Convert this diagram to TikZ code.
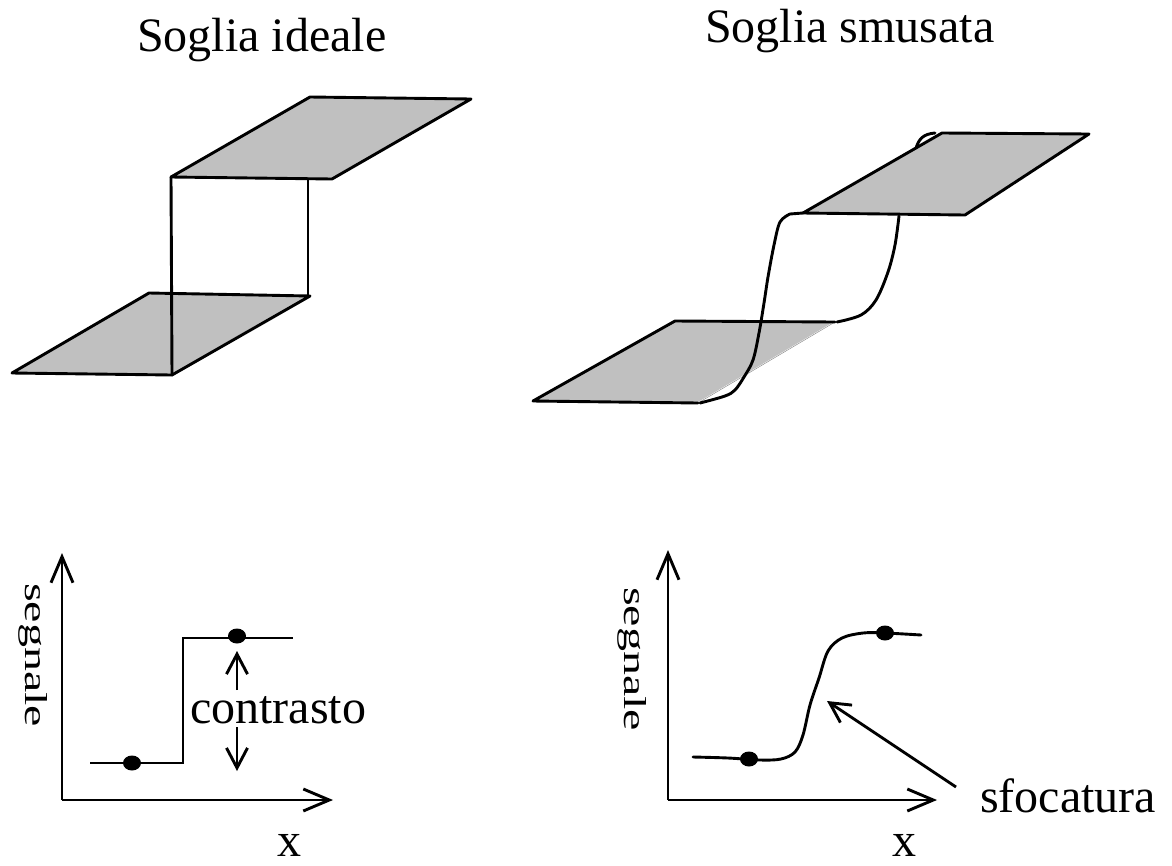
\documentclass[tikz,border=0pt]{standalone}
\usepackage{fontspec}
\setmainfont{Liberation Serif}
\usetikzlibrary{arrows.meta}
\definecolor{planegray}{RGB}{192,192,192}
\begin{document}
\begin{tikzpicture}[x=1pt,y=-1pt,
  edge/.style={line width=2.9pt, line join=round, line cap=round},
  planestyle/.style={fill=planegray, draw=black, line width=2.9pt, line join=round},
  lbl/.style={inner sep=0pt, anchor=base west, font=\fontsize{48}{56}\selectfont},
  axisarrow/.style={line width=2.9pt, -{Straight Barb[length=26pt,width=22pt]}},
  smallarrow/.style={line width=2.9pt, -{Straight Barb[length=20pt,width=21pt]}},
  dotstyle/.style={fill=black}]
\useasboundingbox (0,0) rectangle (1172,865);

% ---------- titles
\node[lbl] (t1) at (137,51) {Soglia ideale};
\node[lbl] (t2) at (705,42) {Soglia smusata};

% ---------- ideal threshold (3D)
\coordinate (iA) at (310,97);  \coordinate (iB) at (471,99);
\coordinate (iC) at (332,179); \coordinate (iD) at (171,177);
\coordinate (iE) at (149,293); \coordinate (iF) at (310,296);
\coordinate (iG) at (172,375); \coordinate (iH) at (12,373);
\coordinate (iV1) at (308,179); \coordinate (iV2) at (308,296);
\draw[planestyle] (iH) -- (iE) -- (iF) -- (iG) -- cycle;
\draw[planestyle] (iD) -- (iA) -- (iB) -- (iC) -- cycle;
\draw[edge] (iD) -- (iG);
\draw[edge] (iV1) -- (iV2);

% ---------- smoothed threshold (3D)
\coordinate (sA) at (942,133); \coordinate (sB) at (1089,134);
\coordinate (sC) at (965,215); \coordinate (sD) at (803,213);
\coordinate (sE) at (675,321); \coordinate (sF) at (835,322);
\coordinate (sG) at (698,403); \coordinate (sH) at (533,401);
\fill[planegray] (sH) -- (sE) -- (sF) -- (sG) -- cycle;
\draw[white, line width=1.4pt] (sF) -- (sG);
\draw[gray, line width=0.4pt] (sF) -- (sG);
\draw[edge] (sG) -- (sH) -- (sE) -- (sF);
% left blurred edge
\draw[edge] (sD) -- (790,214)
  plot[smooth, tension=0.55] coordinates {(790,214) (780,222) (774,245) (768,277) (764,303) (759,333) (753,360) (744,377) (735,390) (725,396) (700,403)};
% right blurred edge
\draw[edge] plot[smooth, tension=0.55] coordinates {(899,216) (895,245) (888,272) (876,300) (861,315) (837,322)};
\draw[planestyle] (sD) -- (sA) -- (sB) -- (sC) -- cycle;
\draw[edge] (916,148) .. controls (919,139) and (923,134) .. (935,133);

% ---------- bottom left graph
\coordinate (o1) at (62,800);
\coordinate (y1) at (62,553);
\coordinate (x1) at (333,800);
\draw[axisarrow] (o1) -- (y1);
\draw[axisarrow] (o1) -- (x1);
\draw[line width=2.9pt, line join=miter] (90,763) -- (183,763) -- (183,638) -- (293,638);
\fill[dotstyle] (132,763) ellipse [x radius=9pt, y radius=7.5pt];
\fill[dotstyle] (237,636) ellipse [x radius=9pt, y radius=7.5pt];
\coordinate (cu0) at (237,690); \coordinate (cu1) at (237,651);
\coordinate (cd0) at (237,727); \coordinate (cd1) at (237,771);
\draw[smallarrow] (cu0) -- (cu1);
\draw[smallarrow] (cd0) -- (cd1);
\node[lbl] (contr) at (190,723) {contrasto};
\node[lbl, rotate=-90] (seg1) at (25,583) {\scalebox{1}[0.66]{segnale}};
\node[lbl, anchor=base] (xl1) at (289,856) {x};

% ---------- bottom right graph
\coordinate (o2) at (668,800);
\coordinate (y2) at (668,550);
\coordinate (x2) at (937,800);
\draw[axisarrow] (o2) -- (y2);
\draw[axisarrow] (o2) -- (x2);
\draw[edge] plot[smooth, tension=0.55] coordinates {(693,757) (728,758) (760,760) (781,759) (795,752) (803,735) (810,705) (819,678) (828,651) (842,638) (863,633) (885,633) (921,635)};
\fill[dotstyle] (749,759) ellipse [x radius=9pt, y radius=7.5pt];
\fill[dotstyle] (885,633) ellipse [x radius=9pt, y radius=7.5pt];
\node[lbl] (sfoc) at (980,812) {sfocatura};
\coordinate (sf0) at (956,787);
\coordinate (sf1) at (827,701);
\draw[smallarrow] (sf0) -- (sf1);
\node[lbl, rotate=-90] (seg2) at (624,587) {\scalebox{1}[0.66]{segnale}};
\node[lbl, anchor=base] (xl2) at (904,856) {x};
\end{tikzpicture}
\end{document}
